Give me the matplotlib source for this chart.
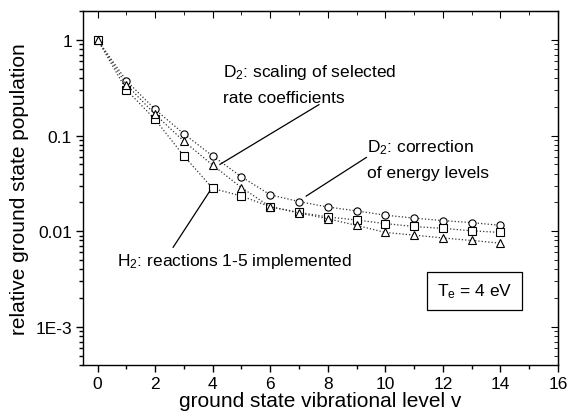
import matplotlib
matplotlib.use("Agg")
import matplotlib.pyplot as plt
from matplotlib.ticker import MultipleLocator, FixedLocator, FixedFormatter, LogLocator, NullFormatter

plt.rcParams['font.family'] = ['Liberation Sans', 'DejaVu Sans']
plt.rcParams['mathtext.default'] = 'regular'

# vibrational levels
v = list(range(15))

# D2: correction of energy levels (circles)
d2_energy = [1, 0.374, 0.187, 0.104, 0.061, 0.037, 0.024, 0.0204, 0.0179, 0.0163,
             0.0147, 0.0137, 0.0129, 0.0123, 0.0115]
# D2: scaling of selected rate coefficients (triangles)
d2_scaling = [1, 0.34, 0.166, 0.087, 0.049, 0.0285, 0.018, 0.0155, 0.0135, 0.0115,
              0.0097, 0.0091, 0.0085, 0.0080, 0.0075]
# H2: reactions 1-5 implemented (squares)
h2_react = [1, 0.30, 0.147, 0.061, 0.028, 0.0233, 0.018, 0.0157, 0.0141, 0.0131,
            0.0120, 0.0112, 0.0107, 0.0101, 0.0097]

ytick_vals = [1e-3, 1e-2, 1e-1, 1]
ytick_labels = ['1E-3', '0.01', '0.1', '1']

fig = plt.figure(figsize=(5.7, 4.14), dpi=100)
ax = fig.add_axes([0.146, 0.116, 0.833, 0.855])

mk = dict(color='#333333', ls=':', lw=0.9, mfc='white', mec='black', mew=0.8, ms=5.2)
ax.plot(v, d2_energy, marker='o', **mk)
ax.plot(v, h2_react, marker='s', **mk)
ax.plot(v, d2_scaling, marker='^', **mk)

ax.set_yscale('log')
ax.set_xlim(-0.5, 16)
ax.set_ylim(4e-4, 2)

ax.xaxis.set_major_locator(MultipleLocator(2))
ax.xaxis.set_minor_locator(MultipleLocator(1))
ax.yaxis.set_major_locator(FixedLocator(ytick_vals))
ax.yaxis.set_major_formatter(FixedFormatter(ytick_labels))
ax.yaxis.set_minor_locator(LogLocator(base=10, subs=range(2, 10)))
ax.yaxis.set_minor_formatter(NullFormatter())

ax.tick_params(which='both', direction='out', labelsize=12.5, width=1)
ax.tick_params(which='major', length=5, pad=3)
ax.tick_params(which='minor', length=3)

# mirrored ticks pointing inwards
top = ax.secondary_xaxis('top')
top.xaxis.set_major_locator(MultipleLocator(2))
top.xaxis.set_minor_locator(MultipleLocator(1))
top.tick_params(which='both', direction='in', labeltop=False)
top.tick_params(which='major', length=5)
top.tick_params(which='minor', length=3)
right = ax.secondary_yaxis('right')
right.yaxis.set_major_locator(FixedLocator(ytick_vals))
right.yaxis.set_minor_locator(LogLocator(base=10, subs=range(2, 10)))
right.tick_params(which='both', direction='in', labelright=False)
right.tick_params(which='major', length=5)
right.tick_params(which='minor', length=3)

for s in ax.spines.values():
    s.set_linewidth(1)

ax.set_xlabel('ground state vibrational level v', fontsize=15, labelpad=0)
ax.set_ylabel('relative ground state population', fontsize=15, labelpad=5)

fs = 12.5
ax.text(4.36, 0.468, 'D$_2$: scaling of selected', fontsize=fs, va='center')
ax.text(4.36, 0.247, 'rate coefficients', fontsize=fs, va='center')
ax.plot([4.25, 7.69], [0.0499, 0.21], color='black', lw=0.9)

ax.text(9.375, 0.0774, 'D$_2$: correction', fontsize=fs, va='center')
ax.text(9.375, 0.0412, 'of energy levels', fontsize=fs, va='center')
ax.plot([7.25, 9.34], [0.0233, 0.059], color='black', lw=0.9)

ax.text(0.66, 0.00491, 'H$_2$: reactions 1-5 implemented', fontsize=fs, va='center')
ax.plot([2.625, 3.9], [0.00679, 0.0263], color='black', lw=0.9)

ax.text(13.09, 0.00237, 'T$_e$ = 4 eV', fontsize=fs, ha='center', va='center',
        bbox=dict(boxstyle='square,pad=0.55', fc='white', ec='black', lw=0.9))

fig.savefig('out.png', dpi=100)
